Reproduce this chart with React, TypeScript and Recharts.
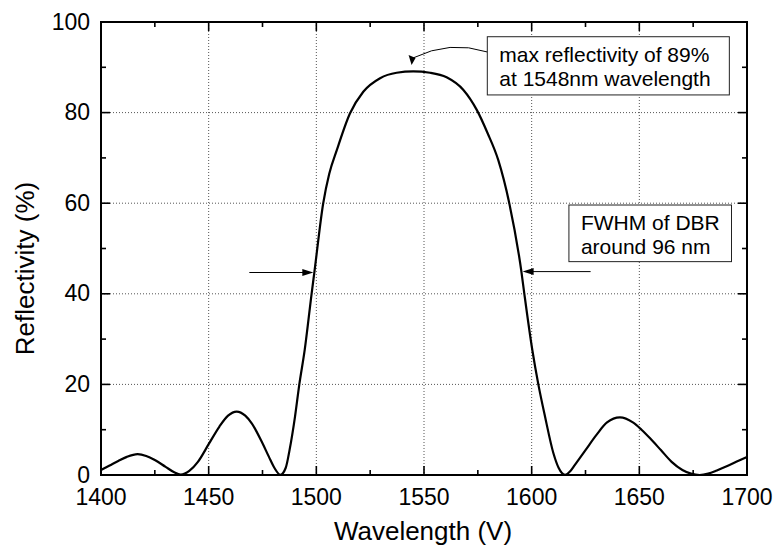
import React from "react";
import {
  CartesianGrid,
  Label,
  Line,
  LineChart,
  ReferenceArea,
  ReferenceDot,
  XAxis,
  YAxis,
} from "recharts";

// spectrum: wavelength in nm, reflectivity in %
const wavelength = [
  1400, 1404, 1408, 1412, 1417, 1421, 1425, 1430, 1434, 1437, 1441, 1445, 1450,
  1455, 1459, 1463, 1467, 1470, 1475, 1478, 1480.5, 1483.3, 1485.8, 1487.6,
  1490.1, 1492.1, 1494.6, 1497.8, 1499.1, 1503.2, 1506, 1509.5, 1515.6, 1521.8,
  1529.6, 1537.3, 1545, 1552.8, 1560.5, 1568.3, 1574.5, 1579.5, 1584.5, 1589.6,
  1595.2, 1596.6, 1600.3, 1603.1, 1606.2, 1610.1, 1612.5, 1615.5, 1618, 1620,
  1625, 1630, 1635, 1641, 1647, 1651, 1655, 1660, 1665, 1670, 1674, 1678, 1682,
  1686, 1690, 1695, 1700,
];
const reflectivity = [
  1.1, 2.1, 3.1, 4.0, 4.6, 4.2, 3.3, 1.8, 0.6, 0.1, 0.9, 2.9, 6.8,
  10.7, 13.1, 14.0, 13.1, 11.4, 7.0, 4.0, 1.6, 0.05, 1.6, 5.6,
  12.9, 20, 27.6, 40, 44.8, 60, 66.5, 71.7, 79.8, 84.6,
  87.6, 88.8, 89.1, 88.8, 87.8, 85.0, 80.6, 75.5, 69.5, 60,
  45, 40, 27.6, 20, 12.9, 4.8, 1.6, 0.05, 0.9, 2.2,
  5.5, 8.8, 11.6, 12.7, 11.6, 10.0, 8.1, 5.5, 2.9, 1.1, 0.3, 0.0, 0.3,
  1.0, 1.8, 2.9, 4.0,
];

const xTicks = [1400, 1425, 1450, 1475, 1500, 1525, 1550, 1575, 1600, 1625, 1650, 1675, 1700];
const yTicks = [0, 10, 20, 30, 40, 50, 60, 70, 80, 90, 100];
const gridX = [1450, 1500, 1550, 1600, 1650];
const gridY = [20, 40, 60, 80];

const peakNote = ["max reflectivity of 89%", "at 1548nm wavelength"];
const fwhmNote = ["FWHM of DBR", "around 96 nm"];
const peakAt = { x: 1544, y: 89.2 };
const fwhmLeft = { x: 1498.6, y: 44.7 };
const fwhmRight = { x: 1595.8, y: 44.9 };

const data = wavelength.map((w, i) => ({ w, r: reflectivity[i] }));

const W = 777;
const H = 554;
const M = { top: 22, right: 30, left: 41, bottom: 0 };
const Y_AXIS_W = 60;
const X_AXIS_H = 79;
const PLOT_LEFT = M.left + Y_AXIS_W;
const PLOT_RIGHT = W - M.right;
const PLOT_TOP = M.top;
const PLOT_BOTTOM = H - M.bottom - X_AXIS_H;

const FONT = "'Liberation Sans', Arial, Helvetica, sans-serif";

function XTick({ x, payload }: any) {
  const v = payload.value as number;
  const major = v % 50 === 0;
  const len = major ? 9 : 5;
  return (
    <g>
      <line x1={x} x2={x} y1={PLOT_BOTTOM} y2={PLOT_BOTTOM - len} stroke="#000" strokeWidth={1.6} />
      <line x1={x} x2={x} y1={PLOT_TOP} y2={PLOT_TOP + len} stroke="#000" strokeWidth={1.6} />
      {major && (
        <text x={x} y={PLOT_BOTTOM + 30} textAnchor="middle" fontSize={23} fill="#000" fontFamily={FONT}>
          {v}
        </text>
      )}
    </g>
  );
}

function YTick({ y, payload }: any) {
  const v = payload.value as number;
  const major = v % 20 === 0;
  const len = major ? 9 : 5;
  return (
    <g>
      <line x1={PLOT_LEFT} x2={PLOT_LEFT + len} y1={y} y2={y} stroke="#000" strokeWidth={1.6} />
      <line x1={PLOT_RIGHT} x2={PLOT_RIGHT - len} y1={y} y2={y} stroke="#000" strokeWidth={1.6} />
      {major && (
        <text x={PLOT_LEFT - 11} y={y + 7.5} textAnchor="end" fontSize={23} fill="#000" fontFamily={FONT}>
          {v}
        </text>
      )}
    </g>
  );
}

function noteBox(lines: string[]) {
  return (p: any) => (
    <g>
      <rect x={p.x} y={p.y} width={p.width} height={p.height} fill="#fff" stroke="#222" strokeWidth={1} />
      {lines.map((t, i) => (
        <text key={t} x={p.x + 12} y={p.y + 25 + i * 24} fontSize={21} fill="#000" fontFamily={FONT}>
          {t}
        </text>
      ))}
    </g>
  );
}

function PeakArrow({ cx, cy }: any) {
  return (
    <g>
      <path
        d={`M ${cx + 76} ${cy - 19} Q ${cx + 39} ${cy - 31} ${cx + 2} ${cy - 13}`}
        fill="none"
        stroke="#000"
        strokeWidth={1}
      />
      <path d={`M ${cx + 0.5} ${cy - 6} L ${cx - 2.5} ${cy - 16} L ${cx + 4.5} ${cy - 13} Z`} fill="#000" />
    </g>
  );
}

function sideArrow(dir: 1 | -1, len: number) {
  // dir 1: arrow comes from the left and points right
  return ({ cx, cy }: any) => (
    <g>
      <line x1={cx - dir * len} x2={cx - dir * 8} y1={cy} y2={cy} stroke="#000" strokeWidth={1} />
      <path
        d={`M ${cx} ${cy} L ${cx - dir * 11} ${cy - 3.5} L ${cx - dir * 11} ${cy + 3.5} Z`}
        fill="#000"
      />
    </g>
  );
}

export default function App() {
  return (
    <div style={{ position: "absolute", left: 0, top: 0, width: W, height: H, background: "#fff" }}>
      <LineChart width={W} height={H} data={data} margin={M} style={{ fontFamily: FONT }}>
        <CartesianGrid
          horizontalValues={gridY}
          verticalValues={gridX}
          stroke="#555"
          strokeDasharray="1 2"
        />
        <XAxis
          dataKey="w"
          type="number"
          domain={[1400, 1700]}
          ticks={xTicks}
          interval={0}
          height={X_AXIS_H}
          axisLine={false}
          tickLine={false}
          tick={<XTick />}
        >
          <Label
            content={({ viewBox }: any) => (
              <text
                x={viewBox.x + viewBox.width / 2 - 1}
                y={viewBox.y + 65}
                textAnchor="middle"
                fontSize={26}
                fill="#000"
                fontFamily={FONT}
              >
                Wavelength (V)
              </text>
            )}
          />
        </XAxis>
        <YAxis
          type="number"
          domain={[0, 100]}
          ticks={yTicks}
          interval={0}
          width={Y_AXIS_W}
          axisLine={false}
          tickLine={false}
          tick={<YTick />}
        >
          <Label
            content={({ viewBox }: any) => {
              const lx = viewBox.x - 7;
              const ly = viewBox.y + viewBox.height / 2 + 20;
              return (
                <text
                  x={lx}
                  y={ly}
                  transform={`rotate(-90 ${lx} ${ly})`}
                  textAnchor="middle"
                  fontSize={26}
                  fill="#000"
                  fontFamily={FONT}
                >
                  Reflectivity (%)
                </text>
              );
            }}
          />
        </YAxis>
        <ReferenceArea x1={1579.4} x2={1691.8} y1={83.9} y2={96.75} shape={noteBox(peakNote)} />
        <ReferenceArea x1={1617.3} x2={1692.8} y1={47.1} y2={59.6} shape={noteBox(fwhmNote)} />
        <Line
          type="monotone"
          dataKey="r"
          stroke="#000"
          strokeWidth={2.2}
          dot={false}
          activeDot={false}
          isAnimationActive={false}
        />
        <ReferenceDot x={peakAt.x} y={peakAt.y} shape={<PeakArrow />} />
        <ReferenceDot x={fwhmLeft.x} y={fwhmLeft.y} shape={sideArrow(1, 64)} />
        <ReferenceDot x={fwhmRight.x} y={fwhmRight.y} shape={sideArrow(-1, 68)} />
        <ReferenceArea
          x1={1400}
          x2={1700}
          y1={0}
          y2={100}
          fill="none"
          fillOpacity={0}
          stroke="#000"
          strokeWidth={2}
        />
      </LineChart>
    </div>
  );
}
